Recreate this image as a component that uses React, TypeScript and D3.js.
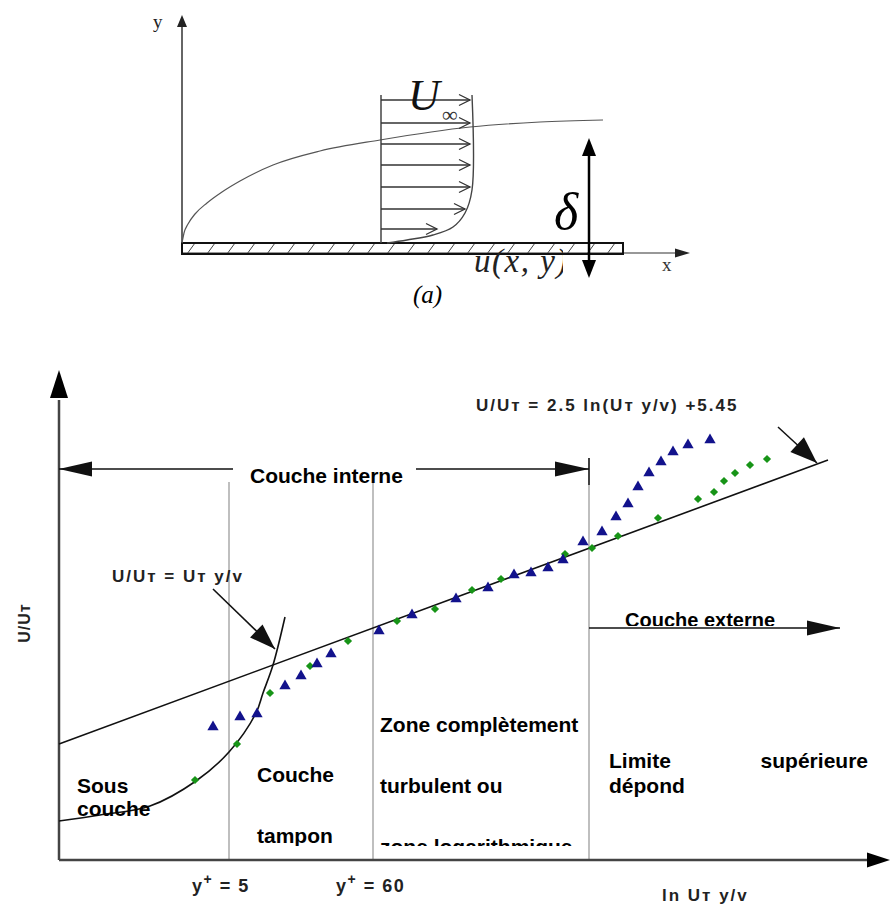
import React from 'react';
import * as d3 from 'd3';

const W = 891;
const H = 908;

// ---------- (a) boundary layer sketch (units of 10 px) ----------
const edgeCurve: [number, number][] = [
  [0, 0], [0.2, 1.0], [0.6, 1.9], [1.3, 2.9], [2.5, 4.0], [4.0, 5.1], [5.8, 6.2],
  [9.1, 7.8], [13.8, 9.2], [19.8, 10.3], [28.8, 11.6], [35.8, 12.1], [42.1, 12.3],
];
const profileEdge: [number, number][] = [
  [29.0, 14.8], [29.0, 5.3], [28.3, 3.0], [27.1, 1.6], [25.1, 0.8], [22.5, 0.3], [20.5, 0.0],
];
const profileBase = 19.9;
const arrowRows = [14.3, 12.0, 9.9, 7.8, 5.6, 3.4, 1.4];
const arrowTips = [28.8, 28.8, 28.8, 28.8, 28.8, 28.3, 25.5];
const plateLength = 44.1;
const deltaAt = 40.7;

// ---------- (b) velocity law chart (units of 10 px) ----------
const blueTriangles: [number, number][] = [
  [15.4, 13.3], [18.1, 14.3], [19.8, 14.6], [22.6, 17.4], [24.2, 18.4], [25.8, 19.6],
  [27.2, 20.6], [32.0, 22.9], [35.3, 24.5], [39.7, 26.1], [42.9, 27.2], [45.5, 28.5],
  [47.2, 28.7], [48.9, 29.2], [50.4, 30.0], [52.4, 31.8], [54.3, 32.8], [55.7, 34.3],
  [56.9, 35.6], [57.9, 37.3], [59.0, 38.7], [60.2, 39.8], [61.4, 40.8], [62.9, 41.5],
  [65.1, 42.0],
];
const greenDiamonds: [number, number][] = [
  [13.6, 8.0], [17.8, 11.6], [21.1, 16.7], [25.1, 19.4], [28.9, 21.9], [33.8, 23.9],
  [37.6, 25.1], [41.3, 27.0], [44.2, 28.1], [50.6, 30.6], [53.3, 31.2], [55.9, 32.4],
  [59.9, 34.2], [63.9, 36.1], [65.5, 36.8], [66.5, 37.9], [67.6, 38.7], [69.1, 39.5],
  [70.8, 40.1],
];
const logLaw: [number, number][] = [[0, 11.6], [76.9, 40.0]];
const viscousLaw: [number, number][] = [
  [0, 3.9], [4.1, 4.5], [9.1, 5.4], [13.7, 7.9], [17.0, 10.8], [19.7, 14.7],
  [20.4, 16.7], [21.4, 19.5], [22.6, 24.3],
];
const zoneBounds = [17.0, 31.4, 53.0];
const zoneTops = [37.8, 37.8, 40.2];
const zoneTickLabels = ['5', '60'];

const sans = '"Liberation Sans", Arial, sans-serif';
const serif = '"Liberation Serif", "Times New Roman", serif';

function head(x1: number, y1: number, x2: number, y2: number, len: number, half: number) {
  const L = Math.hypot(x2 - x1, y2 - y1);
  const ux = (x2 - x1) / L, uy = (y2 - y1) / L;
  const bx = x2 - ux * len, by = y2 - uy * len;
  return `${x2},${y2} ${bx - uy * half},${by + ux * half} ${bx + uy * half},${by - ux * half}`;
}

const Arrow = ({ x1, y1, x2, y2, len, half, sw = 1.5, color = '#111' }: any) => (
  <g>
    <line x1={x1} y1={y1} x2={x2} y2={y2} stroke={color} strokeWidth={sw} />
    <polygon points={head(x1, y1, x2, y2, len, half)} fill={color} />
  </g>
);

export default function App() {
  // (a)
  const xa = d3.scaleLinear().domain([0, plateLength]).range([182, 623]);
  const ya = d3.scaleLinear().domain([0, 14.8]).range([243, 95]);
  const lineA = d3.line<[number, number]>().x(d => xa(d[0])).y(d => ya(d[1]));

  // (b)
  const x = d3.scaleLinear().domain([0, 83]).range([59, 889]);
  const y = d3.scaleLinear().domain([0, 49]).range([860, 370]);
  const lineB = d3.line<[number, number]>().x(d => x(d[0])).y(d => y(d[1]));
  const tri = d3.symbol().type(d3.symbolTriangle).size(55)();
  const dia = d3.symbol().type(d3.symbolSquare).size(34)();

  const hatches = d3.range(0.5, plateLength, 2);
  const labelStyle = { fontFamily: sans, fontWeight: 700, fontSize: 21, fill: '#000' } as const;
  const smallStyle = { fontFamily: sans, fontWeight: 700, fontSize: 17, fill: '#222', letterSpacing: 2 } as const;

  return (
    <svg width={W} height={H} style={{ position: 'absolute', left: 0, top: 0, background: '#fff' }}>
      <defs>
        <clipPath id="plate">
          <rect x={xa(0)} y={ya(0)} width={xa(plateLength) - xa(0)} height={ya(-1.1) - ya(0)} />
        </clipPath>
        <clipPath id="uxy"><rect x={460} y={230} width={103} height={60} /></clipPath>
        <clipPath id="bottomText"><rect x={0} y={0} width={W} height={846} /></clipPath>
        <clipPath id="extText"><rect x={0} y={0} width={W} height={626} /></clipPath>
      </defs>

      {/* ---------- (a) ---------- */}
      <g>
        {/* y axis */}
        <line x1={xa(0)} y1={ya(-1.1)} x2={xa(0)} y2={ya(21.6)} stroke="#333" strokeWidth={1.5} />
        <polygon points={head(xa(0), ya(21.6), xa(0), ya(22.8), 12, 5)} fill="#222" />
        <text x={153} y={28} fontFamily={serif} fontSize={19} fill="#222">y</text>
        {/* x axis */}
        <line x1={xa(0)} y1={ya(-1.0)} x2={xa(49.5)} y2={ya(-1.0)} stroke="#333" strokeWidth={1.2} />
        <polygon points={head(xa(49), ya(-1.0), xa(50.8), ya(-1.0), 15, 4.5)} fill="#222" />
        <text x={662} y={271} fontFamily={serif} fontSize={19} fill="#333">x</text>
        {/* plate */}
        <g clipPath="url(#plate)">
          {hatches.map(h => (
            <line key={h} x1={xa(h)} y1={ya(-1.1)} x2={xa(h + 0.8)} y2={ya(0)} stroke="#444" strokeWidth={1} />
          ))}
        </g>
        <rect x={xa(0)} y={ya(0)} width={xa(plateLength) - xa(0)} height={ya(-1.1) - ya(0)}
          fill="none" stroke="#111" strokeWidth={2} />
        {/* boundary layer edge */}
        <path d={lineA.curve(d3.curveMonotoneX)(edgeCurve) || ''} fill="none" stroke="#555" strokeWidth={1.2} />
        {/* velocity profile */}
        <line x1={xa(profileBase)} y1={ya(0)} x2={xa(profileBase)} y2={ya(14.8)} stroke="#444" strokeWidth={1.5} />
        <path d={lineA.curve(d3.curveCatmullRom)(profileEdge) || ''} fill="none" stroke="#444" strokeWidth={1.4} />
        {arrowRows.map((r, i) => {
          const tx = xa(arrowTips[i]), ty = ya(r);
          return (
            <g key={r} stroke="#333" strokeWidth={1.3} fill="none">
              <line x1={xa(profileBase)} y1={ty} x2={tx} y2={ty} />
              <polyline points={`${tx - 11},${ty - 5.5} ${tx},${ty} ${tx - 11},${ty + 5.5}`} />
            </g>
          );
        })}
        <text x={408} y={110} fontFamily={serif} fontStyle="italic" fontSize={44} fill="#111">U</text>
        <text x={442} y={122} fontFamily={serif} fontSize={22} fill="#333">∞</text>
        {/* delta */}
        <line x1={xa(deltaAt)} y1={ya(-2.3)} x2={xa(deltaAt)} y2={ya(9.3)} stroke="#000" strokeWidth={2.5} />
        <polygon points={head(xa(deltaAt), ya(8), xa(deltaAt), ya(10.5), 18, 7)} fill="#000" />
        <polygon points={head(xa(deltaAt), ya(-1), xa(deltaAt), ya(-3.5), 18, 7)} fill="#000" />
        <text x={554} y={229} fontFamily={serif} fontStyle="italic" fontSize={52} fill="#000">δ</text>
        <text x={474} y={272} fontFamily={serif} fontStyle="italic" fontSize={33} fill="#222"
          letterSpacing={1.5} clipPath="url(#uxy)">u(x, y)</text>
        <text x={413} y={303} fontFamily={serif} fontStyle="italic" fontSize={25} fill="#000">(a)</text>
      </g>

      {/* ---------- (b) ---------- */}
      <g>
        {/* zone boundaries */}
        {zoneBounds.map((b, i) => (
          <line key={b} x1={x(b)} y1={y(zoneTops[i])} x2={x(b)} y2={y(0)} stroke="#aaa" strokeWidth={1.5} />
        ))}
        <line x1={x(53.0)} y1={y(40.2)} x2={x(53.0)} y2={y(37.5)} stroke="#222" strokeWidth={1.6} />

        {/* axes */}
        <line x1={x(0)} y1={y(0)} x2={x(0)} y2={y(46)} stroke="#444" strokeWidth={2.5} />
        <polygon points={head(x(0), y(45), x(0), y(49), 28, 9)} fill="#000" />
        <line x1={x(0)} y1={y(0)} x2={x(81)} y2={y(0)} stroke="#444" strokeWidth={2.5} />
        <polygon points={head(x(80), y(0), x(83.1), y(0), 23, 7.5)} fill="#000" />

        {/* laws */}
        <path d={lineB(logLaw) || ''} fill="none" stroke="#111" strokeWidth={1.6} />
        <path d={lineB.curve(d3.curveCatmullRom)(viscousLaw) || ''} fill="none" stroke="#111" strokeWidth={1.6} />

        {/* data */}
        {greenDiamonds.map(([a, b], i) => (
          <path key={'g' + i} d={dia || ''} transform={`translate(${x(a)},${y(b)}) rotate(45)`} fill="#179417" />
        ))}
        {blueTriangles.map(([a, b], i) => (
          <path key={'b' + i} d={tri || ''} transform={`translate(${x(a)},${y(b)})`} fill="#12128c" />
        ))}

        {/* couche interne */}
        <Arrow x1={x(17.4)} y1={y(39.1)} x2={x(0)} y2={y(39.1)} len={33} half={7.5} sw={1.5} />
        <Arrow x1={x(35.7)} y1={y(39.1)} x2={x(53.0)} y2={y(39.1)} len={34} half={7.5} sw={1.5} />
        <text x={250} y={483} {...labelStyle}>Couche interne</text>

        {/* couche externe */}
        <text x={625} y={627} {...labelStyle} fontSize={20} clipPath="url(#extText)">Couche externe</text>
        <Arrow x1={x(53.0)} y1={y(23.2)} x2={x(78.1)} y2={y(23.2)} len={33} half={7.5} sw={1.5} />

        {/* law labels */}
        <text x={476} y={411} {...smallStyle}>U/Uт = 2.5 ln(Uт y/v) +5.45</text>
        <Arrow x1={x(71.9)} y1={y(43.3)} x2={x(75.8)} y2={y(39.7)} len={27} half={10} sw={1.5} />
        <text x={112} y={582} {...smallStyle}>U/Uт = Uт y/v</text>
        <Arrow x1={x(15.4)} y1={y(27.1)} x2={x(21.6)} y2={y(21.1)} len={26} half={9} sw={1.6} />

        {/* zone labels */}
        <g clipPath="url(#bottomText)">
          <text x={77} y={793} {...labelStyle}>Sous</text>
          <text x={77} y={816} {...labelStyle}>couche</text>
          <text x={257} y={782} {...labelStyle}>Couche</text>
          <text x={257} y={843} {...labelStyle}>tampon</text>
          <text x={380} y={732} {...labelStyle}>Zone complètement</text>
          <text x={380} y={793} {...labelStyle}>turbulent ou</text>
          <text x={380} y={854} {...labelStyle}>zone logarithmique</text>
          <text x={609} y={768} {...labelStyle}>Limite</text>
          <text x={868} y={768} {...labelStyle} textAnchor="end">supérieure</text>
          <text x={609} y={793} {...labelStyle}>dépond</text>
        </g>

        {/* axis labels */}
        <text transform={`translate(30, 623) rotate(-90)`} textAnchor="middle"
          {...smallStyle} fontSize={16} letterSpacing={1}>U/Uт</text>
        {zoneTickLabels.map((t, i) => (
          <text key={t} x={x(zoneBounds[i]) - 37} y={892} {...smallStyle} fontSize={18} letterSpacing={1.5}>
            y<tspan fontSize={14} dy={-8}>+</tspan><tspan dy={8}> = {t}</tspan>
          </text>
        ))}
        <text x={662} y={901} {...smallStyle}>ln Uт y/v</text>
      </g>
    </svg>
  );
}
